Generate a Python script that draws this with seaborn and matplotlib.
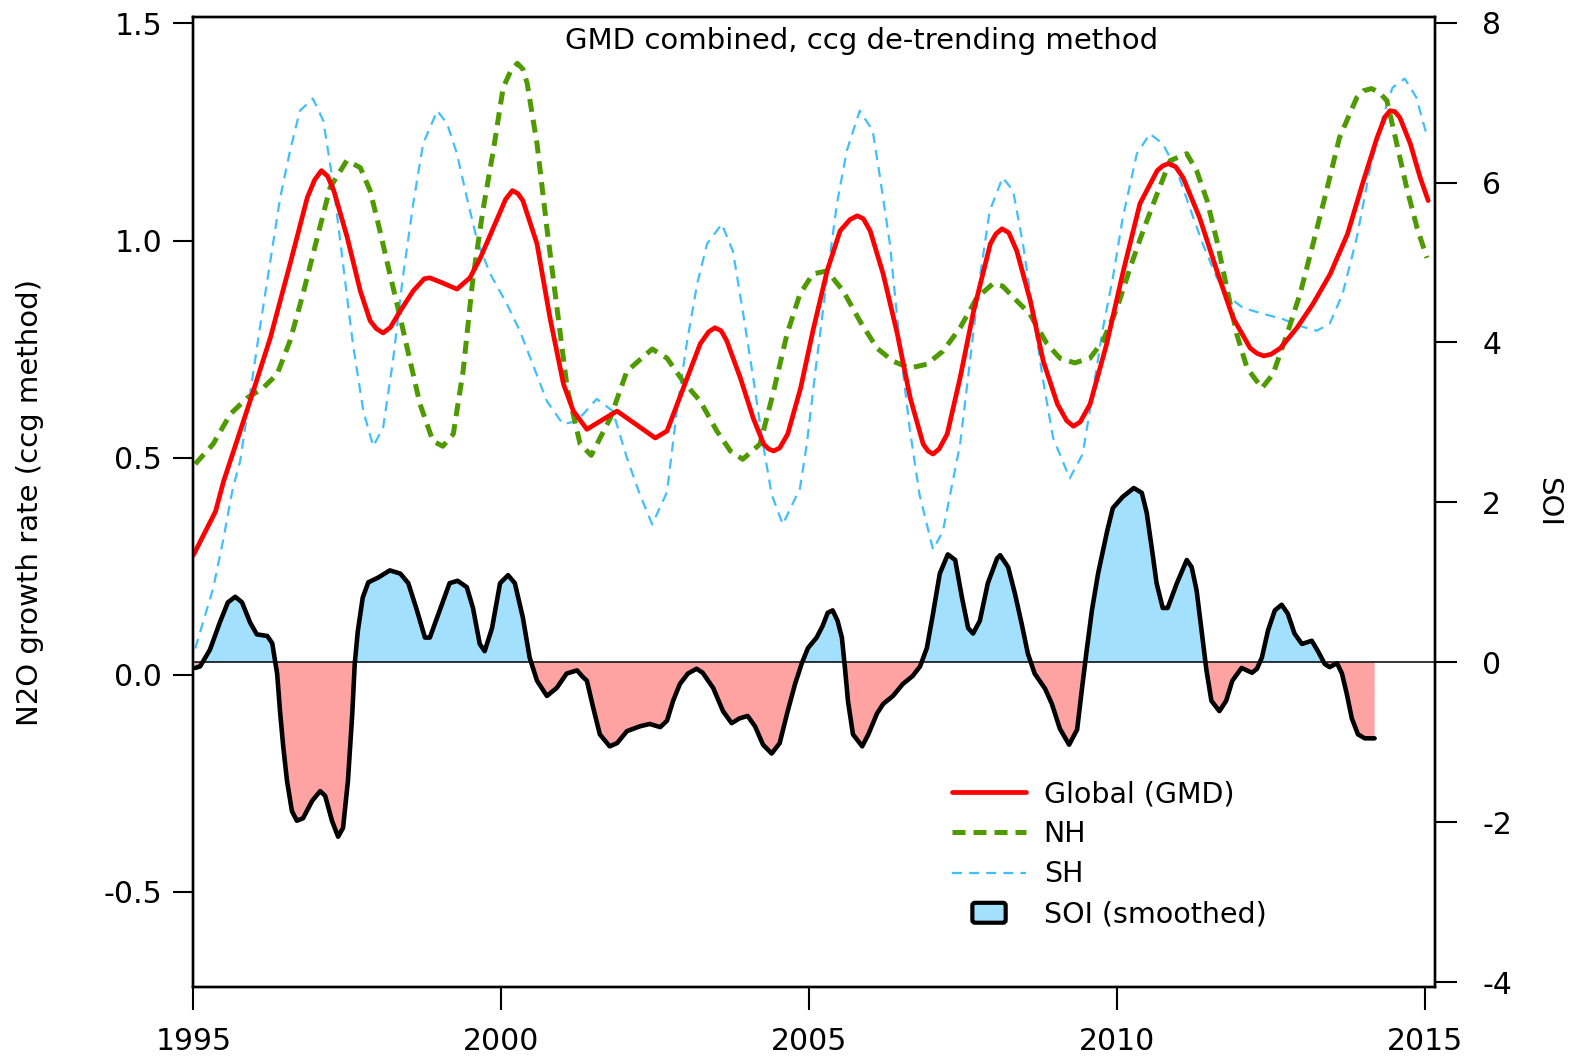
import matplotlib
matplotlib.use("Agg")
import matplotlib.pyplot as plt
import matplotlib.patches as mpatches
from matplotlib.lines import Line2D
from matplotlib.legend_handler import HandlerPatch
import numpy as np
import seaborn as sns

# N2O growth rate (ccg method)
glob_yr = [1995.00, 1995.36, 1995.49, 1995.92, 1996.25, 1996.57, 1996.85, 1996.97, 1997.08, 1997.18,
           1997.28, 1997.50, 1997.71, 1997.87, 1997.97, 1998.08, 1998.20, 1998.36, 1998.57, 1998.75,
           1998.84, 1999.05, 1999.28, 1999.49, 1999.66, 1999.94, 2000.07, 2000.18, 2000.27, 2000.35,
           2000.58, 2000.79, 2001.01, 2001.17, 2001.39, 2001.62, 2001.88, 2002.20, 2002.50, 2002.69,
           2003.02, 2003.23, 2003.37, 2003.47, 2003.57, 2003.66, 2003.88, 2004.09, 2004.26, 2004.34,
           2004.42, 2004.52, 2004.65, 2004.86, 2005.06, 2005.29, 2005.50, 2005.66, 2005.78, 2005.88,
           2005.99, 2006.20, 2006.43, 2006.64, 2006.85, 2006.93, 2007.01, 2007.11, 2007.24, 2007.45,
           2007.67, 2007.94, 2008.03, 2008.13, 2008.24, 2008.37, 2008.59, 2008.80, 2009.03, 2009.18,
           2009.29, 2009.40, 2009.56, 2009.83, 2010.10, 2010.37, 2010.65, 2010.74, 2010.83, 2010.95,
           2011.07, 2011.34, 2011.62, 2011.88, 2012.16, 2012.27, 2012.38, 2012.50, 2012.65, 2012.92,
           2013.18, 2013.46, 2013.74, 2014.00, 2014.22, 2014.35, 2014.43, 2014.51, 2014.59, 2014.76,
           2014.92, 2015.05]
glob_val = [0.275, 0.376, 0.445, 0.630, 0.776, 0.946, 1.099, 1.140, 1.161, 1.148,
            1.115, 1.006, 0.884, 0.815, 0.797, 0.787, 0.800, 0.838, 0.884, 0.912,
            0.914, 0.902, 0.888, 0.914, 0.960, 1.052, 1.095, 1.115, 1.108, 1.092,
            0.992, 0.822, 0.669, 0.607, 0.565, 0.585, 0.607, 0.575, 0.545, 0.561,
            0.684, 0.762, 0.790, 0.799, 0.792, 0.769, 0.684, 0.591, 0.531, 0.520,
            0.515, 0.522, 0.554, 0.660, 0.792, 0.930, 1.022, 1.048, 1.057, 1.050,
            1.022, 0.923, 0.785, 0.637, 0.531, 0.515, 0.508, 0.520, 0.554, 0.684,
            0.838, 0.992, 1.015, 1.027, 1.018, 0.976, 0.861, 0.722, 0.623, 0.585,
            0.572, 0.582, 0.623, 0.762, 0.930, 1.085, 1.161, 1.172, 1.177, 1.170,
            1.145, 1.052, 0.930, 0.822, 0.752, 0.740, 0.734, 0.738, 0.752, 0.799,
            0.854, 0.923, 1.015, 1.138, 1.237, 1.285, 1.299, 1.297, 1.283, 1.223,
            1.145, 1.092]

nh_yr = [1995.03, 1995.32, 1995.60, 1995.87, 1996.13, 1996.36, 1996.57, 1996.78, 1997.01, 1997.22,
         1997.49, 1997.71, 1997.87, 1998.03, 1998.19, 1998.36, 1998.52, 1998.68, 1998.89, 1999.05,
         1999.22, 1999.38, 1999.54, 1999.70, 1999.87, 2000.03, 2000.15, 2000.26, 2000.35, 2000.42,
         2000.58, 2000.74, 2000.91, 2001.07, 2001.28, 2001.46, 2001.77, 2002.04, 2002.45, 2002.69,
         2002.95, 2003.23, 2003.50, 2003.72, 2003.92, 2004.20, 2004.41, 2004.64, 2004.85, 2005.06,
         2005.29, 2005.55, 2005.82, 2006.10, 2006.36, 2006.63, 2006.91, 2007.17, 2007.45, 2007.72,
         2007.98, 2008.14, 2008.37, 2008.58, 2008.86, 2009.07, 2009.31, 2009.56, 2009.77, 2010.00,
         2010.21, 2010.42, 2010.65, 2010.86, 2011.13, 2011.29, 2011.46, 2011.62, 2011.78, 2011.94,
         2012.11, 2012.35, 2012.53, 2012.76, 2012.97, 2013.18, 2013.40, 2013.61, 2013.89, 2014.00,
         2014.13, 2014.25, 2014.38, 2014.54, 2014.70, 2014.87, 2015.03]
nh_val = [0.485, 0.531, 0.600, 0.637, 0.660, 0.692, 0.769, 0.877, 1.006, 1.122,
          1.184, 1.168, 1.115, 1.022, 0.923, 0.822, 0.722, 0.623, 0.538, 0.526,
          0.554, 0.699, 0.914, 1.068, 1.207, 1.352, 1.390, 1.408, 1.395, 1.362,
          1.223, 1.029, 0.838, 0.660, 0.531, 0.505, 0.591, 0.699, 0.750, 0.729,
          0.676, 0.630, 0.561, 0.515, 0.496, 0.531, 0.646, 0.785, 0.877, 0.923,
          0.930, 0.884, 0.815, 0.752, 0.722, 0.706, 0.715, 0.745, 0.799, 0.868,
          0.900, 0.895, 0.861, 0.831, 0.762, 0.729, 0.718, 0.729, 0.769, 0.845,
          0.937, 1.022, 1.108, 1.184, 1.200, 1.161, 1.092, 0.999, 0.891, 0.785,
          0.706, 0.660, 0.692, 0.785, 0.877, 0.992, 1.115, 1.237, 1.329, 1.345,
          1.350, 1.342, 1.322, 1.223, 1.122, 1.029, 0.960]

sh_yr = [1995.03, 1995.32, 1995.48, 1995.64, 1995.76, 1995.92, 1996.08, 1996.25, 1996.41, 1996.57,
         1996.73, 1996.94, 1997.11, 1997.27, 1997.43, 1997.59, 1997.76, 1997.92, 1998.08, 1998.24,
         1998.40, 1998.57, 1998.73, 1998.96, 1999.12, 1999.28, 1999.44, 1999.61, 1999.82, 2000.09,
         2000.30, 2000.51, 2000.74, 2001.00, 2001.23, 2001.55, 2001.81, 2002.04, 2002.25, 2002.45,
         2002.69, 2002.85, 2003.01, 2003.18, 2003.34, 2003.58, 2003.76, 2003.92, 2004.09, 2004.25,
         2004.39, 2004.57, 2004.85, 2004.96, 2005.12, 2005.29, 2005.45, 2005.61, 2005.82, 2006.03,
         2006.15, 2006.31, 2006.47, 2006.63, 2006.79, 2007.01, 2007.17, 2007.33, 2007.45, 2007.61,
         2007.77, 2007.93, 2008.14, 2008.31, 2008.47, 2008.63, 2008.79, 2008.96, 2009.23, 2009.44,
         2009.60, 2009.77, 2009.93, 2010.09, 2010.32, 2010.53, 2010.74, 2010.97, 2011.18, 2011.39,
         2011.62, 2011.83, 2012.04, 2012.37, 2012.69, 2012.97, 2013.24, 2013.45, 2013.66, 2013.89,
         2014.10, 2014.31, 2014.47, 2014.67, 2014.86, 2014.96, 2015.04]
sh_val = [0.060, 0.198, 0.307, 0.429, 0.492, 0.646, 0.799, 0.953, 1.099, 1.207,
          1.299, 1.327, 1.276, 1.131, 0.946, 0.762, 0.607, 0.526, 0.568, 0.722,
          0.914, 1.085, 1.223, 1.299, 1.269, 1.200, 1.099, 0.999, 0.923, 0.854,
          0.792, 0.715, 0.630, 0.577, 0.584, 0.635, 0.607, 0.499, 0.415, 0.346,
          0.420, 0.607, 0.762, 0.900, 0.992, 1.038, 0.976, 0.838, 0.684, 0.531,
          0.415, 0.346, 0.429, 0.531, 0.722, 0.914, 1.085, 1.207, 1.299, 1.253,
          1.145, 0.992, 0.762, 0.568, 0.415, 0.288, 0.330, 0.445, 0.531, 0.722,
          0.914, 1.068, 1.145, 1.115, 0.992, 0.838, 0.684, 0.545, 0.452, 0.508,
          0.646, 0.799, 0.914, 1.052, 1.200, 1.246, 1.223, 1.161, 1.075, 0.992,
          0.914, 0.868, 0.845, 0.831, 0.819, 0.803, 0.792, 0.808, 0.877, 1.006,
          1.161, 1.283, 1.352, 1.373, 1.329, 1.276, 1.237]

# Southern Oscillation Index (smoothed)
soi_yr = [1995.03, 1995.11, 1995.27, 1995.43, 1995.56, 1995.68, 1995.79, 1995.92, 1996.03, 1996.20,
          1996.28, 1996.36, 1996.41, 1996.46, 1996.52, 1996.60, 1996.68, 1996.78, 1996.93, 1997.06,
          1997.14, 1997.25, 1997.35, 1997.43, 1997.51, 1997.58, 1997.62, 1997.67, 1997.75, 1997.84,
          1998.00, 1998.19, 1998.36, 1998.49, 1998.63, 1998.76, 1998.84, 1999.00, 1999.16, 1999.29,
          1999.44, 1999.54, 1999.65, 1999.73, 1999.85, 1999.98, 2000.11, 2000.22, 2000.35, 2000.46,
          2000.58, 2000.74, 2000.90, 2001.06, 2001.23, 2001.32, 2001.39, 2001.49, 2001.60, 2001.76,
          2001.88, 2002.04, 2002.25, 2002.41, 2002.58, 2002.69, 2002.79, 2002.90, 2003.03, 2003.17,
          2003.27, 2003.44, 2003.60, 2003.74, 2003.87, 2004.00, 2004.12, 2004.25, 2004.39, 2004.52,
          2004.64, 2004.77, 2004.88, 2004.98, 2005.12, 2005.22, 2005.30, 2005.38, 2005.46, 2005.53,
          2005.58, 2005.63, 2005.71, 2005.86, 2005.96, 2006.10, 2006.20, 2006.36, 2006.52, 2006.68,
          2006.80, 2006.91, 2007.01, 2007.12, 2007.25, 2007.37, 2007.48, 2007.58, 2007.66, 2007.77,
          2007.90, 2008.05, 2008.10, 2008.23, 2008.34, 2008.45, 2008.55, 2008.66, 2008.83, 2008.94,
          2009.07, 2009.22, 2009.35, 2009.43, 2009.51, 2009.59, 2009.69, 2009.84, 2009.93, 2010.09,
          2010.27, 2010.40, 2010.48, 2010.56, 2010.64, 2010.74, 2010.82, 2010.97, 2011.13, 2011.21,
          2011.29, 2011.37, 2011.45, 2011.53, 2011.66, 2011.77, 2011.87, 2012.02, 2012.19, 2012.27,
          2012.35, 2012.45, 2012.56, 2012.67, 2012.77, 2012.88, 2013.00, 2013.16, 2013.26, 2013.37,
          2013.45, 2013.57, 2013.65, 2013.73, 2013.81, 2013.91, 2014.02, 2014.18]
soi_val = [-0.07, -0.05, 0.16, 0.50, 0.75, 0.82, 0.75, 0.50, 0.35, 0.33,
           0.24, -0.14, -0.64, -1.06, -1.48, -1.86, -1.98, -1.95, -1.73, -1.61,
           -1.67, -1.98, -2.18, -2.07, -1.48, -0.64, -0.02, 0.39, 0.81, 1.00,
           1.06, 1.15, 1.11, 0.99, 0.65, 0.31, 0.31, 0.65, 0.99, 1.02,
           0.94, 0.68, 0.23, 0.14, 0.43, 0.99, 1.09, 0.99, 0.56, 0.06,
           -0.23, -0.42, -0.32, -0.14, -0.10, -0.18, -0.23, -0.56, -0.90, -1.05,
           -1.01, -0.86, -0.80, -0.77, -0.81, -0.73, -0.48, -0.27, -0.14, -0.08,
           -0.13, -0.32, -0.61, -0.76, -0.70, -0.67, -0.80, -1.03, -1.14, -1.01,
           -0.64, -0.27, -0.01, 0.18, 0.31, 0.46, 0.62, 0.65, 0.52, 0.31,
           -0.07, -0.49, -0.90, -1.05, -0.90, -0.64, -0.52, -0.42, -0.27, -0.17,
           -0.05, 0.18, 0.61, 1.11, 1.35, 1.28, 0.81, 0.43, 0.36, 0.52,
           0.99, 1.30, 1.34, 1.19, 0.86, 0.48, 0.11, -0.14, -0.33, -0.52,
           -0.83, -1.03, -0.84, -0.32, 0.18, 0.65, 1.11, 1.65, 1.93, 2.07,
           2.18, 2.12, 1.87, 1.44, 0.99, 0.68, 0.68, 0.99, 1.28, 1.19,
           0.90, 0.40, -0.10, -0.48, -0.61, -0.48, -0.23, -0.07, -0.13, -0.08,
           0.06, 0.40, 0.65, 0.72, 0.61, 0.36, 0.23, 0.27, 0.14, -0.02,
           -0.06, -0.01, -0.14, -0.40, -0.70, -0.90, -0.95, -0.95]

year_ticks = [1995, 2000, 2005, 2010, 2015]
left_ticks = [-0.5, 0.0, 0.5, 1.0, 1.5]
right_ticks = [-4, -2, 0, 2, 4, 6, 8]

RED = "#ff0000"
GREEN = "#4f9a00"
SKY = "#40bfff"
POS_FILL = "#a2e0fd"
NEG_FILL = "#ffa2a2"

sns.set_style("ticks")
plt.rcParams["font.family"] = ["DejaVu Sans"]
plt.rcParams["font.size"] = 21
for key in ("text.color", "axes.labelcolor", "xtick.color", "ytick.color"):
    plt.rcParams[key] = "black"

fig = plt.figure(figsize=(15.76, 10.61), dpi=100)
ax = fig.add_axes([0.1227, 0.0697, 0.9105 - 0.1227, 0.984 - 0.0697])
ax2 = ax.twinx()
# keep the N2O curves above the SOI fill
ax.set_zorder(ax2.get_zorder() + 1)
ax.patch.set_visible(False)

# SOI on the right axis
soi_x = np.array(soi_yr)
soi_y = np.array(soi_val)
ax2.fill_between(soi_x, soi_y, 0, where=soi_y >= 0, interpolate=True, color=POS_FILL, lw=0)
ax2.fill_between(soi_x, soi_y, 0, where=soi_y <= 0, interpolate=True, color=NEG_FILL, lw=0)
ax2.axhline(0, color="black", lw=1.1, zorder=2)
sns.lineplot(x=soi_yr, y=soi_val, ax=ax2, color="black", lw=3.3, zorder=3,
             solid_joinstyle="round", solid_capstyle="round")

# N2O growth rates on the left axis
sns.lineplot(x=sh_yr, y=sh_val, ax=ax, color=SKY, lw=1.6, dash_joinstyle="round")
ax.lines[-1].set_dashes((4.5, 3.2))
sns.lineplot(x=nh_yr, y=nh_val, ax=ax, color=GREEN, lw=3.6, dash_joinstyle="round")
ax.lines[-1].set_dashes((2.6, 1.6))
sns.lineplot(x=glob_yr, y=glob_val, ax=ax, color=RED, lw=3.4, solid_joinstyle="round")

ax.set_xlim(1995, 2015.16)
ax.set_ylim(-0.72, 1.515)
ax2.set_ylim(-4.06, 8.07)

ax.set_xticks(year_ticks)
ax.set_xticklabels([str(y) for y in year_ticks])
ax.set_yticks(left_ticks)
ax.set_yticklabels(["-0.5", "0.0", "0.5", "1.0", "1.5"])
ax2.set_yticks(right_ticks)
ax2.set_yticklabels([str(t) for t in right_ticks])

ax.tick_params(axis="x", direction="out", length=16.5, width=1.5, pad=12, labelsize=21.5)
ax.tick_params(axis="y", direction="out", length=14.5, width=1.5, pad=8, labelsize=21.5)
ax2.tick_params(axis="y", direction="out", length=16, width=1.5, pad=18, labelsize=21.5)

for a in (ax, ax2):
    for s in a.spines.values():
        s.set_visible(True)
        s.set_linewidth(1.7)
        s.set_color("black")

ax.set_xlabel("")
ax.set_ylabel("N2O growth rate (ccg method)", fontsize=21)
ax.yaxis.set_label_coords(-0.12, 0.5)
ax2.set_ylabel("SOI", fontsize=21, rotation=-90, va="bottom")
ax2.yaxis.set_label_coords(1.08, 0.5)

ax.text(0.538, 0.975, "GMD combined, ccg de-trending method", transform=ax.transAxes,
        ha="center", va="center", fontsize=21)


def small_box(legend, orig_handle, xdescent, ydescent, width, height, fontsize):
    w = width * 0.45
    return mpatches.FancyBboxPatch((-xdescent + (width - w) / 2, -ydescent), w, height,
                                   boxstyle="round,pad=0,rounding_size=2")


handles = [
    Line2D([], [], color=RED, lw=3.4),
    Line2D([], [], color=GREEN, lw=3.6, dashes=(2.6, 1.6)),
    Line2D([], [], color=SKY, lw=1.6, dashes=(4.5, 3.2)),
    mpatches.Patch(facecolor=POS_FILL, edgecolor="black", lw=3),
]
labels = ["Global (GMD)", "NH", "SH", "SOI (smoothed)"]
leg = ax.legend(handles, labels, loc="upper left", bbox_to_anchor=(952 / 1576, 1 - 780 / 1061),
                bbox_transform=fig.transFigure, frameon=False, borderaxespad=0, borderpad=0,
                fontsize=20.5, handlelength=2.6, handletextpad=0.62, labelspacing=0.43,
                handler_map={mpatches.Patch: HandlerPatch(patch_func=small_box)})

fig.savefig("out.png", dpi=100)
